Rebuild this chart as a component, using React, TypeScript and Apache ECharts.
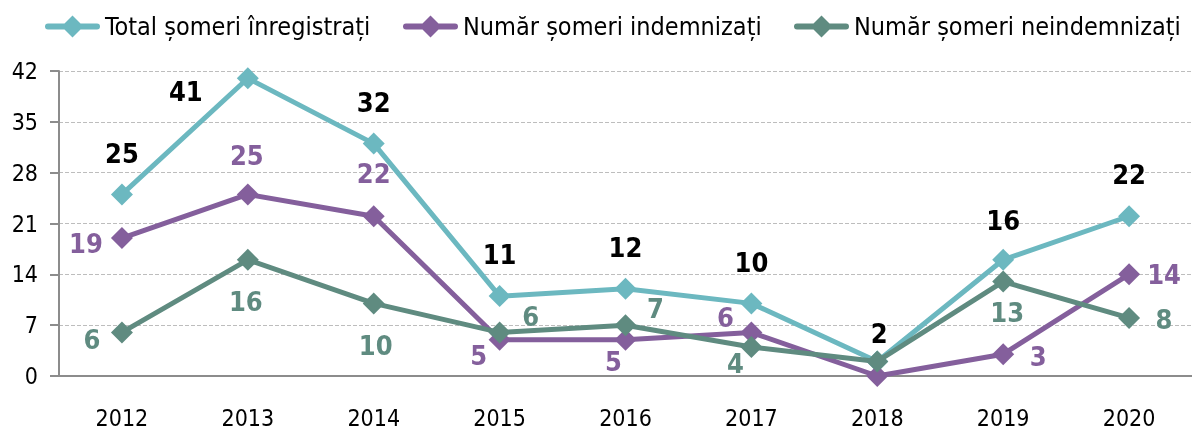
import React, { useEffect, useRef } from "react";
import * as echarts from "echarts";

const categories = ["2012", "2013", "2014", "2015", "2016", "2017", "2018", "2019", "2020"];
const totalValues = [25, 41, 32, 11, 12, 10, 2, 16, 22];
const indemnValues = [19, 25, 22, 5, 5, 6, 0, 3, 14];
const neindemnValues = [6, 16, 10, 6, 7, 4, 2, 13, 8];
const seriesNames = ["Total șomeri înregistrați", "Număr șomeri indemnizați", "Număr șomeri neindemnizați"];

// label offsets [dx, dy] relative to point; null = no label
const totalOffsets: (number[] | null)[] = [[0, -41], [-62, 13], [0, -41], [0, -42], [0, -41], [0, -41], [2, -28], [0, -39], [0, -42]];
const indemnOffsets: (number[] | null)[] = [[-36, 5], [-1, -39], [0, -43], [-21, 16], [-12, 22], [-26, -15], null, [35, 2], [35, 0]];
const neindemnOffsets: (number[] | null)[] = [[-30, 7], [-2, 42], [2, 42], [31, -16], [30, -17], [-16, 17], null, [4, 31], [35, 2]];

const COLORS = ["#6cb8c0", "#845f9c", "#5f8b80"];
const LABEL_COLORS = ["#000000", "#845f9c", "#5f8b80"];
const FONT = "'DejaVu Sans Condensed', 'Liberation Sans Narrow', sans-serif";
const LEGEND_ICON = "path://M3,8H19.5L27.5,0L35.5,8H52A3,3,0,0,1,52,14H35.5L27.5,22L19.5,14H3A3,3,0,0,1,3,8Z";

function buildData(values: number[], offsets: (number[] | null)[], color: string) {
  return values.map((v, i) => {
    const off = offsets[i];
    return {
      value: v,
      label: off
        ? {
            show: true,
            position: "inside",
            offset: off,
            align: "center",
            verticalAlign: "middle",
            color,
            fontWeight: "bold",
            fontSize: 27,
            fontFamily: FONT,
          }
        : { show: false },
    };
  });
}

export default function App() {
  const ref = useRef<HTMLDivElement>(null);
  useEffect(() => {
    if (!ref.current) return;
    const chart = echarts.init(ref.current, null, { renderer: "svg" });
    const valueSets = [totalValues, indemnValues, neindemnValues];
    const offsetSets = [totalOffsets, indemnOffsets, neindemnOffsets];
    const legendLefts = [45, 403, 794];
    chart.setOption({
      animation: false,
      textStyle: { fontFamily: FONT },
      legend: seriesNames.map((n, i) => ({
        data: [{ name: n, icon: LEGEND_ICON, itemStyle: { color: COLORS[i] } }],
        left: legendLefts[i],
        top: 14,
        padding: 0,
        itemWidth: 55,
        itemHeight: 22,
        textStyle: { fontSize: 25, color: "#000", fontFamily: FONT },
      })),
      grid: { left: 59, top: 71, width: 1143, bottom: 60 },
      xAxis: {
        type: "category",
        data: categories,
        boundaryGap: true,
        axisLine: { lineStyle: { color: "#8c8c8c", width: 2 } },
        axisTick: { show: false },
        axisLabel: { fontSize: 23, color: "#000", margin: 30, fontFamily: FONT },
      },
      yAxis: {
        type: "value",
        min: 0,
        max: 42,
        interval: 7,
        axisLine: { show: true, lineStyle: { color: "#8c8c8c", width: 2 } },
        axisTick: { show: true, length: 9, lineStyle: { color: "#8c8c8c", width: 2 } },
        axisLabel: { fontSize: 23, color: "#000", margin: 21, fontFamily: FONT },
        splitLine: { lineStyle: { color: "#bdbdbd", type: "dashed", width: 1 } },
      },
      series: seriesNames.map((n, i) => ({
        name: n,
        type: "line",
        data: buildData(valueSets[i], offsetSets[i], LABEL_COLORS[i]),
        symbol: "diamond",
        symbolSize: 22,
        lineStyle: { color: COLORS[i], width: 5 },
        itemStyle: { color: COLORS[i] },
        z: 2 + i,
      })),
    });
    return () => chart.dispose();
  }, []);
  return <div ref={ref} style={{ position: "fixed", left: 0, top: 0, width: 1192, height: 436 }} />;
}
